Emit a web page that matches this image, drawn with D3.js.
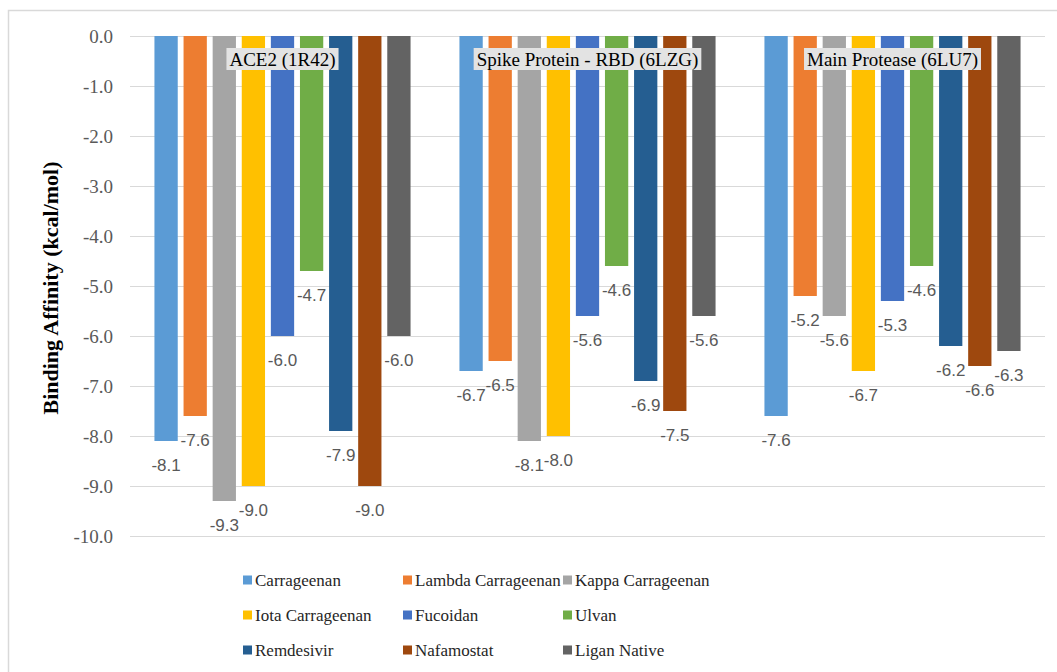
<!DOCTYPE html>
<html>
<head>
<meta charset="utf-8">
<script src="https://cdn.jsdelivr.net/npm/d3@7"></script>
<style>
  html, body { margin: 0; padding: 0; background: #fff; }
  svg { display: block; }
  .serif { font-family: 'Liberation Serif', 'Times New Roman', serif; }
  .sans { font-family: 'Liberation Sans', Arial, sans-serif; }
</style>
</head>
<body>
<svg id="chart" width="1057" height="672"></svg>
<script>
// Docking targets and ligands
const targets = ["ACE2 (1R42)", "Spike Protein - RBD (6LZG)", "Main Protease (6LU7)"];
const ligands = ["Carrageenan", "Lambda Carrageenan", "Kappa Carrageenan",
                 "Iota Carrageenan", "Fucoidan", "Ulvan",
                 "Remdesivir", "Nafamostat", "Ligan Native"];
const colors = ["#5B9BD5", "#ED7D31", "#A5A5A5", "#FFC000", "#4472C4",
                "#70AD47", "#255E91", "#9E480E", "#636363"];

// Binding affinity (kcal/mol), one array per target, in ligand order
const ace2Values  = [-8.1, -7.6, -9.3, -9.0, -6.0, -4.7, -7.9, -9.0, -6.0];
const spikeValues = [-6.7, -6.5, -8.1, -8.0, -5.6, -4.6, -6.9, -7.5, -5.6];
const mproValues  = [-7.6, -5.2, -5.6, -6.7, -5.3, -4.6, -6.2, -6.6, -6.3];
const valuesByTarget = [ace2Values, spikeValues, mproValues];

const yTicks = [0, -1, -2, -3, -4, -5, -6, -7, -8, -9, -10];
const yTitle = "Binding Affinity (kcal/mol)";

// one decimal, plain hyphen for negatives
const fmt = d3.formatLocale({ decimal: ".", thousands: ",", grouping: [3], currency: ["", ""], minus: "-" }).format(".1f");

const svg = d3.select("#chart");
const plot = { left: 130, right: 1045, top: 36, bottom: 536 };

// chart frame
svg.append("rect")
  .attr("x", 8.5).attr("y", 10.5)
  .attr("width", 1070).attr("height", 700)
  .attr("fill", "none").attr("stroke", "#d9d9d9").attr("stroke-width", 1.5);

const y = d3.scaleLinear().domain([0, -10]).range([plot.top, plot.bottom]);
const x0 = d3.scaleBand().domain(targets).range([plot.left, plot.right]).padding(0);
const x1 = d3.scaleBand().domain(ligands).range([0, x0.bandwidth()])
  .paddingInner(0.2).paddingOuter(0.84);

// gridlines
svg.append("g")
  .selectAll("line").data(yTicks).join("line")
  .attr("x1", plot.left).attr("x2", plot.right)
  .attr("y1", d => Math.round(y(d)) + 0.5).attr("y2", d => Math.round(y(d)) + 0.5)
  .attr("stroke", "#d9d9d9").attr("stroke-width", 1);

// y axis labels
const yAxis = d3.axisLeft(y).tickValues(yTicks).tickFormat(fmt).tickSize(0).tickPadding(0);
const yg = svg.append("g").attr("transform", `translate(113,0)`).call(yAxis)
  .attr("font-family", null).attr("font-size", null);
yg.select(".domain").remove();
yg.selectAll("text")
  .attr("class", "serif")
  .style("font-size", "19px").attr("fill", "#595959");

// y axis title
svg.append("text")
  .attr("class", "serif")
  .attr("transform", `translate(58,${(plot.top + plot.bottom) / 2 + 2}) rotate(-90)`)
  .attr("text-anchor", "middle")
  .style("font-weight", "bold").style("font-size", "22px").attr("fill", "#000")
  .text(yTitle);

// bars
const groups = svg.append("g").selectAll("g").data(targets).join("g")
  .attr("transform", d => `translate(${x0(d)},0)`);

groups.selectAll("rect")
  .data((t, i) => valuesByTarget[i].map((v, j) => ({ ligand: ligands[j], value: v, color: colors[j] })))
  .join("rect")
  .attr("x", d => x1(d.ligand))
  .attr("width", x1.bandwidth())
  .attr("y", y(0))
  .attr("height", d => y(d.value) - y(0))
  .attr("fill", d => d.color);

// value labels below bar ends
groups.selectAll("text.val")
  .data((t, i) => valuesByTarget[i].map((v, j) => ({ ligand: ligands[j], value: v })))
  .join("text")
  .attr("class", "val sans")
  .attr("x", d => x1(d.ligand) + x1.bandwidth() / 2)
  .attr("y", d => y(d.value) + 24)
  .attr("dy", "0.35em")
  .attr("text-anchor", "middle")
  .style("font-size", "17px").attr("fill", "#595959")
  .text(d => fmt(d.value));

// target name labels with shaded boxes
targets.forEach(t => {
  const cx = x0(t) + x0.bandwidth() / 2;
  const g = svg.append("g");
  const rect = g.append("rect").attr("fill", "#e3e3e3");
  const txt = g.append("text")
    .attr("class", "serif")
    .attr("x", cx).attr("y", 59).attr("dy", "0.35em")
    .attr("text-anchor", "middle")
    .style("font-size", "19px").attr("fill", "#000")
    .text(t);
  const w = txt.node().getComputedTextLength() + 6;
  rect.attr("x", cx - w / 2).attr("y", 48).attr("width", w).attr("height", 22);
});

// legend
const legendCols = [243, 403, 563];
const legendRows = [580, 615, 650];
const legend = svg.append("g").selectAll("g").data(ligands).join("g")
  .attr("transform", (d, i) => `translate(${legendCols[i % 3]},${legendRows[Math.floor(i / 3)]})`);
legend.append("rect")
  .attr("x", 0).attr("y", -4.5).attr("width", 9).attr("height", 9)
  .attr("fill", (d, i) => colors[i]);
legend.append("text")
  .attr("class", "serif")
  .attr("x", 12).attr("y", 0).attr("dy", "0.35em")
  .style("font-size", "17px").attr("fill", "#262626")
  .text(d => d);
</script>
</body>
</html>
